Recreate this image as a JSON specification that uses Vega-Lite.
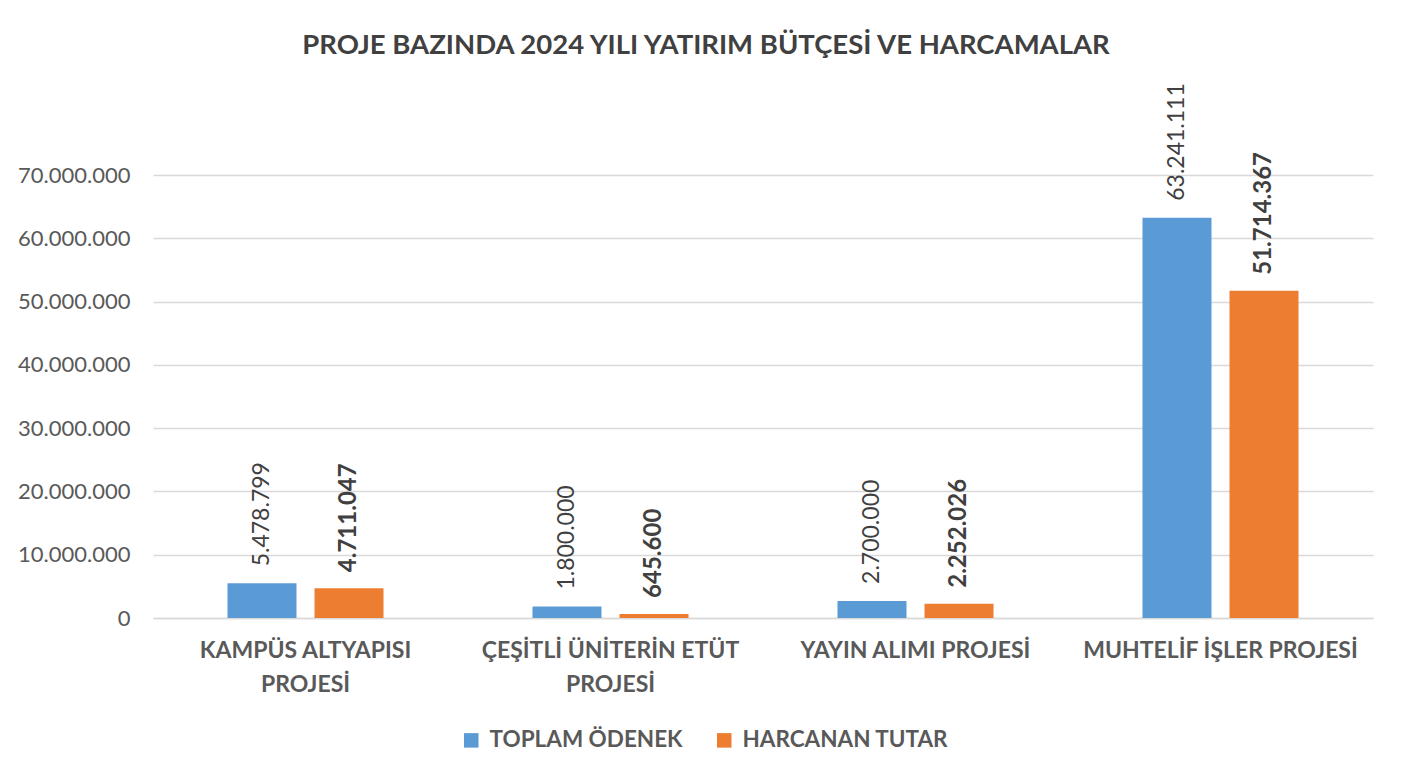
{
  "$schema": "https://vega.github.io/schema/vega-lite/v6.json",
  "width": 1220,
  "height": 443,
  "autosize": {"type": "none"},
  "padding": {"left": 153, "top": 175, "right": 45, "bottom": 160},
  "background": "white",
  "title": {
    "text": "PROJE BAZINDA 2024 YILI YATIRIM BÜTÇESİ VE HARCAMALAR",
    "font": "Lato",
    "fontSize": 27.5,
    "fontWeight": "bold",
    "color": "#404040",
    "anchor": "middle",
    "frame": "group",
    "dx": -57,
    "offset": 24
  },
  "data": {
    "values": [
      {"proje": "KAMPÜS ALTYAPISI|PROJESİ", "seri": "TOPLAM ÖDENEK", "tutar": 5478799},
      {"proje": "KAMPÜS ALTYAPISI|PROJESİ", "seri": "HARCANAN TUTAR", "tutar": 4711047},
      {"proje": "ÇEŞİTLİ ÜNİTERİN ETÜT|PROJESİ", "seri": "TOPLAM ÖDENEK", "tutar": 1800000},
      {"proje": "ÇEŞİTLİ ÜNİTERİN ETÜT|PROJESİ", "seri": "HARCANAN TUTAR", "tutar": 645600},
      {"proje": "YAYIN ALIMI PROJESİ", "seri": "TOPLAM ÖDENEK", "tutar": 2700000},
      {"proje": "YAYIN ALIMI PROJESİ", "seri": "HARCANAN TUTAR", "tutar": 2252026},
      {"proje": "MUHTELİF İŞLER PROJESİ", "seri": "TOPLAM ÖDENEK", "tutar": 63241111},
      {"proje": "MUHTELİF İŞLER PROJESİ", "seri": "HARCANAN TUTAR", "tutar": 51714367}
    ]
  },
  "encoding": {
    "x": {
      "field": "proje",
      "type": "nominal",
      "sort": null,
      "scale": {"paddingInner": 0, "paddingOuter": 0},
      "axis": {
        "title": null,
        "labelAngle": 0,
        "labelExpr": "split(datum.label, '|')",
        "labelFont": "Lato",
        "labelFontSize": 23,
        "labelFontWeight": "bold",
        "labelColor": "#595959",
        "labelLineHeight": 34,
        "labelPadding": 21,
        "labelLimit": 400,
        "ticks": false,
        "domainColor": "#d9d9d9",
        "domainWidth": 1.5
      }
    },
    "xOffset": {
      "field": "seri",
      "type": "nominal",
      "sort": ["TOPLAM ÖDENEK", "HARCANAN TUTAR"],
      "scale": {"paddingInner": 0.207, "paddingOuter": 0.856}
    },
    "y": {
      "field": "tutar",
      "type": "quantitative",
      "scale": {"domain": [0, 70000000], "nice": false},
      "axis": {
        "title": null,
        "values": [0, 10000000, 20000000, 30000000, 40000000, 50000000, 60000000, 70000000],
        "format": ",d",
        "labelFont": "Lato",
        "labelFontSize": 22,
        "labelColor": "#595959",
        "labelPadding": 23,
        "ticks": false,
        "domain": false,
        "gridColor": "#d9d9d9",
        "gridWidth": 1.5
      }
    }
  },
  "layer": [
    {
      "mark": {"type": "bar"},
      "encoding": {
        "color": {
          "field": "seri",
          "type": "nominal",
          "sort": ["TOPLAM ÖDENEK", "HARCANAN TUTAR"],
          "scale": {"domain": ["TOPLAM ÖDENEK", "HARCANAN TUTAR"], "range": ["#5B9BD5", "#ED7D31"]},
          "legend": {
            "title": null,
            "orient": "none",
            "direction": "horizontal",
            "legendX": 307,
            "legendY": 554,
            "symbolType": "square",
            "symbolSize": 210,
            "symbolStrokeWidth": 0,
            "labelFont": "Lato",
            "labelFontSize": 22.5,
            "labelFontWeight": "bold",
            "labelColor": "#595959",
            "labelOffset": 7,
            "columnPadding": 30,
            "labelLimit": 400
          }
        }
      }
    },
    {
      "transform": [{"filter": "datum.seri == 'TOPLAM ÖDENEK'"}],
      "mark": {"type": "text", "angle": 270, "align": "left", "baseline": "middle", "dx": 17, "font": "Lato", "fontSize": 23, "color": "#404040"},
      "encoding": {"text": {"field": "tutar", "type": "quantitative", "format": ",d"}}
    },
    {
      "transform": [{"filter": "datum.seri == 'HARCANAN TUTAR'"}],
      "mark": {"type": "text", "angle": 270, "align": "left", "baseline": "middle", "dx": 16, "font": "Lato", "fontSize": 24, "fontWeight": "bold", "color": "#404040"},
      "encoding": {"text": {"field": "tutar", "type": "quantitative", "format": ",d"}}
    }
  ],
  "config": {
    "view": {"stroke": null},
    "locale": {
      "number": {"decimal": ",", "thousands": ".", "grouping": [3], "currency": ["", " TL"]}
    }
  }
}
